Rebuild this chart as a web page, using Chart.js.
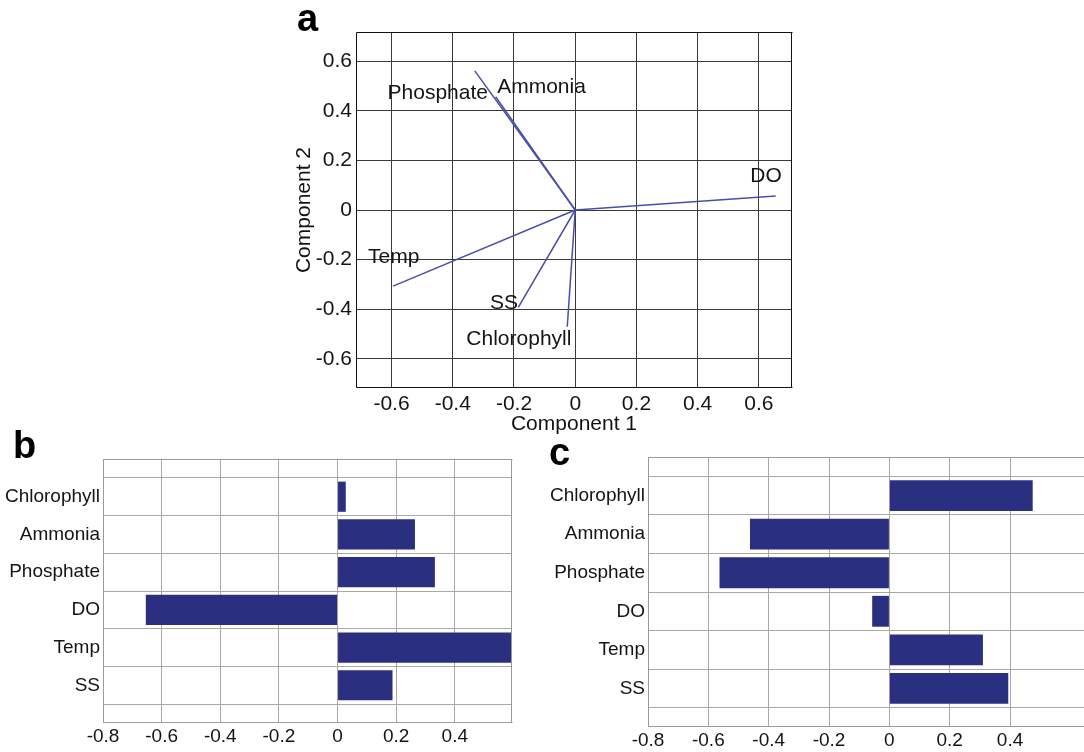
<!DOCTYPE html>
<html>
<head>
<meta charset="utf-8">
<script src="https://cdn.jsdelivr.net/npm/chart.js@4.4.0/dist/chart.umd.min.js"></script>
<style>
  body { margin: 0; background: #fff; width: 1084px; height: 752px; overflow: hidden; position: relative; }
  canvas { position: absolute; }
</style>
</head>
<body>
<canvas id="biplot" width="580" height="440" style="left:250px;top:0px"></canvas>
<canvas id="barsB" width="540" height="322" style="left:0px;top:430px"></canvas>
<canvas id="barsC" width="544" height="322" style="left:540px;top:430px"></canvas>
<script>
// variables, top to bottom as in the bar panels
const variables = ['Chlorophyll', 'Ammonia', 'Phosphate', 'DO', 'Temp', 'SS'];

// panel a: loadings on component 1 / component 2
const comp1 = [-0.026, -0.26, -0.328, 0.655, -0.595, -0.186];
const comp2 = [-0.471, 0.457, 0.561, 0.056, -0.307, -0.393];
// where the variable names sit in panel a (data units)
const labelX = [-0.184, -0.11, -0.449, 0.623, -0.593, -0.233];
const labelY = [-0.521, 0.496, 0.472, 0.137, -0.19, -0.375];

// panels b and c: bar values
const barsB = [0.028, 0.264, 0.332, -0.654, 0.595, 0.1875];
const barsC = [0.475, -0.462, -0.563, -0.057, 0.31, 0.394];

const ticksA = [-0.6, -0.4, -0.2, 0, 0.2, 0.4, 0.6];
const ticksBC = [-0.8, -0.6, -0.4, -0.2, 0, 0.2, 0.4];

const FONT = "'Liberation Sans', Arial, sans-serif";
Chart.defaults.font.family = FONT;
Chart.defaults.color = '#141414';
Chart.defaults.animation = false;

const fmt = v => Math.abs(v) < 1e-9 ? '0' : v.toFixed(1);
const setTicks = list => scale => { scale.ticks = list.map(v => ({ value: v })); };

function frame(color, sides) {
  return {
    id: 'frame',
    afterDraw(chart) {
      const { ctx, chartArea: a } = chart;
      const l = Math.round(a.left) + 0.5, r = Math.round(a.right) - 0.5;
      const t = Math.round(a.top) + 0.5, b = Math.round(a.bottom) - 0.5;
      ctx.save();
      ctx.strokeStyle = color;
      ctx.lineWidth = 1;
      ctx.beginPath();
      if (sides.includes('l')) { ctx.moveTo(l, t); ctx.lineTo(l, b); }
      if (sides.includes('r')) { ctx.moveTo(r, t); ctx.lineTo(r, b); }
      if (sides.includes('t')) { ctx.moveTo(l, t); ctx.lineTo(r + 1, t); }
      if (sides.includes('b')) { ctx.moveTo(l, b); ctx.lineTo(r + 1, b); }
      ctx.stroke();
      ctx.restore();
    }
  };
}

function letter(ch, x, y) {
  return {
    id: 'letter' + ch,
    afterDraw(chart) {
      const ctx = chart.ctx;
      ctx.save();
      ctx.font = 'bold 38px ' + FONT;
      ctx.fillStyle = '#000';
      ctx.textBaseline = 'alphabetic';
      ctx.fillText(ch, x, y);
      ctx.restore();
    }
  };
}

// ---- panel a ----
const biplotText = {
  id: 'biplotText',
  afterDraw(chart) {
    const { ctx, scales } = chart;
    ctx.save();
    ctx.font = '21px ' + FONT;
    ctx.fillStyle = '#141414';
    ctx.textAlign = 'center';
    ctx.textBaseline = 'middle';
    variables.forEach((name, i) => {
      ctx.fillText(name, scales.x.getPixelForValue(labelX[i]), scales.y.getPixelForValue(labelY[i]));
    });
    ctx.fillText('Component 1', (chart.chartArea.left + chart.chartArea.right) / 2, 424);
    ctx.translate(54, (chart.chartArea.top + chart.chartArea.bottom) / 2);
    ctx.rotate(-Math.PI / 2);
    ctx.fillText('Component 2', 0, 0);
    ctx.restore();
  }
};

new Chart(document.getElementById('biplot'), {
  type: 'scatter',
  data: {
    datasets: variables.map((name, i) => ({
      label: name,
      data: [{ x: 0, y: 0 }, { x: comp1[i], y: comp2[i] }],
      showLine: true,
      borderColor: '#4a4fa6',
      borderWidth: 1.5,
      pointRadius: 0
    }))
  },
  options: {
    responsive: false,
    layout: { padding: { left: 0, top: 32, right: 38, bottom: 0 } },
    plugins: { legend: { display: false }, tooltip: { enabled: false } },
    scales: {
      x: {
        type: 'linear', min: -0.716, max: 0.708,
        afterBuildTicks: setTicks(ticksA),
        afterFit: s => { s.height = 52; },
        border: { display: false },
        grid: { color: '#3a3a3a', drawTicks: false },
        ticks: { callback: fmt, padding: 4, font: { size: 21 }, maxRotation: 0, autoSkip: false }
      },
      y: {
        type: 'linear', min: -0.718, max: 0.718,
        afterBuildTicks: setTicks(ticksA),
        afterFit: s => { s.width = 106; },
        border: { display: false },
        grid: { color: '#3a3a3a', drawTicks: false },
        ticks: { callback: fmt, padding: 4, font: { size: 21 }, autoSkip: false }
      }
    }
  },
  plugins: [frame('#111', 'lrtb'), biplotText, letter('a', 47, 31)]
});

// ---- panels b and c ----
function barPanel(id, values, opt) {
  return new Chart(document.getElementById(id), {
    type: 'bar',
    data: {
      labels: ['', ...variables, ''],
      datasets: [{
        data: [null, ...values, null],
        backgroundColor: '#2b2f80',
        borderWidth: 0,
        categoryPercentage: 1,
        barPercentage: 0.8
      }]
    },
    options: {
      indexAxis: 'y',
      responsive: false,
      layout: { padding: opt.padding },
      plugins: { legend: { display: false }, tooltip: { enabled: false } },
      scales: {
        x: {
          type: 'linear', min: -0.8, max: opt.max,
          afterBuildTicks: setTicks(ticksBC),
          afterFit: s => { s.height = opt.xh; },
          border: { display: false },
          grid: { color: '#a8a8a8', drawTicks: false },
          ticks: { callback: fmt, padding: opt.tpad, font: { size: opt.fs }, maxRotation: 0, autoSkip: false }
        },
        y: {
          type: 'category', offset: false,
          afterFit: s => { s.width = opt.yw; },
          border: { display: false },
          grid: { color: '#a8a8a8', drawTicks: false },
          ticks: { padding: 3, font: { size: opt.fs }, autoSkip: false }
        }
      }
    },
    plugins: [frame('#9a9a9a', opt.sides), letter(opt.letter, opt.lx, opt.ly)]
  });
}

barPanel('barsB', barsB, {
  max: 0.595, padding: { left: 0, top: 29, right: 28, bottom: 0 },
  xh: 29, yw: 103, fs: 19, tpad: 2, sides: 'lrtb', letter: 'b', lx: 13, ly: 28
});
barPanel('barsC', barsC, {
  max: 0.645, padding: { left: 0, top: 27, right: 0, bottom: 0 },
  xh: 25, yw: 108, fs: 19, tpad: 2, sides: 'ltb', letter: 'c', lx: 9, ly: 35
});
</script>
</body>
</html>
